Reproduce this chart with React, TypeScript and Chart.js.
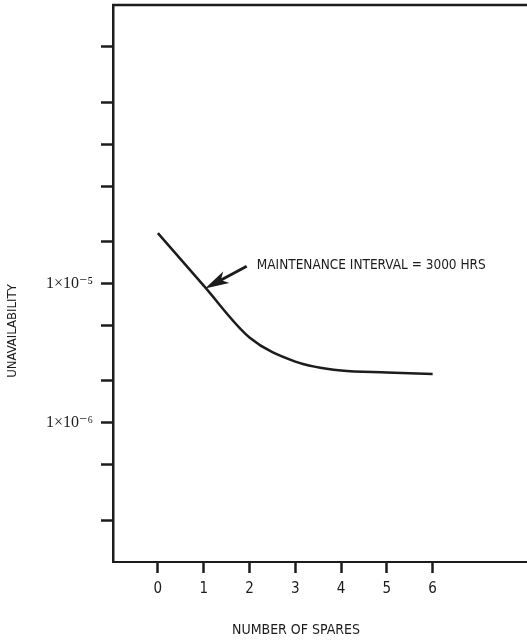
import React, { useEffect, useRef } from "react";
import { Chart, registerables } from "chart.js";

Chart.register(...registerables);

// ---- data ----
const spares = [0, 1, 2, 3, 4, 5, 6];
const unavailability = [2.3e-5, 9.65e-6, 4.1e-6, 2.75e-6, 2.37e-6, 2.3e-6, 2.24e-6];
const xTickValues = [0, 1, 2, 3, 4, 5, 6];
const yTickValues = [2e-7, 5e-7, 1e-6, 2e-6, 5e-6, 1e-5, 2e-5, 5e-5, 1e-4, 2e-4, 5e-4];
const yLabelValues = [1e-6, 1e-5];
const yLabelTexts = ["1×10⁻⁶", "1×10⁻⁵"];
const xTitle = "NUMBER OF SPARES";
const yTitle = "UNAVAILABILITY";
const annotationText = "MAINTENANCE INTERVAL = 3000 HRS";
const arrowTail = { x: 1.94, y: 1.33e-5 };
const arrowTip = { x: 1.03, y: 9.2e-6 };
const annotationAnchor = { x: 2.16, y: 1.35e-5 };

const INK = "#1c1c1c";
const NARROW = "'Liberation Sans Narrow', 'DejaVu Sans Condensed', 'Liberation Sans', sans-serif";
const SERIF = "'Liberation Serif', 'DejaVu Serif', serif";

const decorPlugin = {
  id: "decor",
  afterDraw(chart: any) {
    const { ctx, chartArea, scales } = chart;
    const xs = scales.x;
    const ys = scales.y;
    ctx.save();
    // top frame line
    ctx.strokeStyle = INK;
    ctx.lineWidth = 2.5;
    ctx.beginPath();
    ctx.moveTo(chartArea.left - 1, chartArea.top);
    ctx.lineTo(chartArea.right, chartArea.top);
    ctx.stroke();

    // arrow
    const tx = xs.getPixelForValue(arrowTip.x);
    const ty = ys.getPixelForValue(arrowTip.y);
    const sx = xs.getPixelForValue(arrowTail.x);
    const sy = ys.getPixelForValue(arrowTail.y);
    const dx = tx - sx;
    const dy = ty - sy;
    const len = Math.hypot(dx, dy);
    const ux = dx / len;
    const uy = dy / len;
    const nx = -uy;
    const ny = ux;
    const L = 24;
    const W = 6.5;
    ctx.lineWidth = 3;
    ctx.beginPath();
    ctx.moveTo(sx, sy);
    ctx.lineTo(tx - ux * L * 0.6, ty - uy * L * 0.6);
    ctx.stroke();
    ctx.fillStyle = INK;
    ctx.beginPath();
    ctx.moveTo(tx, ty);
    ctx.lineTo(tx - ux * L + nx * W, ty - uy * L + ny * W);
    ctx.lineTo(tx - ux * L * 0.75, ty - uy * L * 0.75);
    ctx.lineTo(tx - ux * L - nx * W, ty - uy * L - ny * W);
    ctx.closePath();
    ctx.fill();

    // annotation text
    ctx.font = `13.5px ${NARROW}`;
    ctx.textBaseline = "middle";
    ctx.textAlign = "left";
    ctx.fillText(annotationText, xs.getPixelForValue(annotationAnchor.x), ys.getPixelForValue(annotationAnchor.y));

    // axis titles
    ctx.font = `14px ${NARROW}`;
    ctx.textAlign = "center";
    ctx.fillText(xTitle, chartArea.left + 183, chartArea.bottom + 68);

    ctx.font = `13px ${NARROW}`;
    ctx.translate(13, chartArea.top + 326);
    ctx.rotate(-Math.PI / 2);
    ctx.fillText(yTitle, 0, 0);
    ctx.restore();
  },
};

export default function App() {
  const ref = useRef<HTMLCanvasElement | null>(null);
  useEffect(() => {
    if (!ref.current) return;
    const chart = new Chart(ref.current, {
      type: "line",
      data: {
        labels: spares,
        datasets: [
          {
            data: spares.map((s, i) => ({ x: s, y: unavailability[i] })),
            borderColor: INK,
            borderWidth: 2.5,
            pointRadius: 0,
            cubicInterpolationMode: "monotone",
            fill: false,
          },
        ],
      },
      options: {
        responsive: false,
        animation: false,
        layout: { padding: { top: 5, right: 0, left: 0, bottom: 0 } },
        plugins: { legend: { display: false }, tooltip: { enabled: false }, title: { display: false } },
        scales: {
          x: {
            type: "linear",
            min: -0.98,
            max: 8.06,
            afterBuildTicks: (scale: any) => {
              scale.ticks = xTickValues.map((v) => ({ value: v }));
            },
            afterFit: (scale: any) => {
              scale.height = 78;
              scale.paddingLeft = 0;
              scale.paddingRight = 0;
            },
            border: { display: true, color: INK, width: 2 },
            grid: { drawOnChartArea: false, drawTicks: true, tickLength: 11, tickWidth: 2.5, tickColor: INK, color: INK },
            ticks: {
              color: INK,
              padding: 7,
              font: { family: NARROW, size: 15 },
              maxRotation: 0,
              autoSkip: false,
              callback: (v: any) => String(v),
            },
          },
          y: {
            type: "logarithmic",
            min: 1e-7,
            max: 1e-3,
            afterBuildTicks: (scale: any) => {
              scale.ticks = yTickValues.map((v) => ({ value: v }));
            },
            afterFit: (scale: any) => {
              scale.width = 113;
              scale.paddingTop = 0;
              scale.paddingBottom = 0;
            },
            border: { display: true, color: INK, width: 2.5 },
            grid: { drawOnChartArea: false, drawTicks: true, tickLength: 12, tickWidth: 2.5, tickColor: INK, color: INK },
            ticks: {
              color: INK,
              padding: 8,
              font: { family: SERIF, size: 16 },
              autoSkip: false,
              callback: (v: any) => {
                const i = yLabelValues.findIndex((t) => Math.abs(Number(v) - t) / t < 1e-6);
                return i >= 0 ? yLabelTexts[i] : "";
              },
            },
          },
        },
      },
      plugins: [decorPlugin],
    } as any);
    return () => chart.destroy();
  }, []);
  return (
    <div style={{ position: "absolute", left: 0, top: 0, width: 527, height: 640, background: "#fff" }}>
      <canvas ref={ref} width={527} height={640} style={{ display: "block" }} />
    </div>
  );
}
